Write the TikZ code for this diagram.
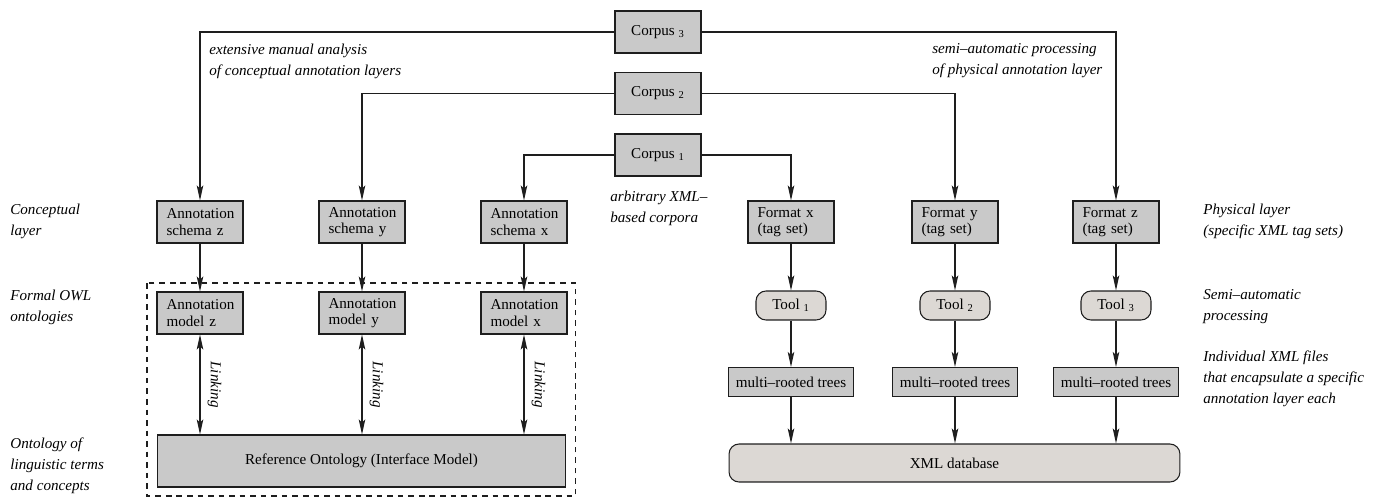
\documentclass[tikz,border=0pt]{standalone}
\usepackage{fontspec}
\setmainfont{Liberation Serif}
\usetikzlibrary{arrows.meta}
\definecolor{boxgray}{RGB}{201,201,201}
\definecolor{toolgray}{RGB}{220,216,212}
\definecolor{linegray}{RGB}{30,30,30}
\tikzset{
  every picture/.style={font=\fontsize{8.6}{9.4}\selectfont},
  box/.style={draw=linegray,fill=boxgray,line width=0.6pt,minimum width=1.72cm,minimum height=0.84cm,inner sep=0pt},
  txtbox/.style={box,text width=1.34cm,align=left},
  treebox/.style={box,minimum width=2.5cm,minimum height=0.58cm},
  toolbox/.style={box,fill=toolgray,rounded corners=0.2cm,minimum width=1.4cm,minimum height=0.58cm},
  note/.style={anchor=west,align=left,inner sep=0pt,font=\fontsize{8.6}{12}\selectfont\itshape},
  arr/.style={-{Stealth[length=3mm,width=1.3mm,inset=0.6mm]},draw=linegray,line width=0.6pt},
  dblarr/.style={arr,{Stealth[length=3mm,width=1.3mm,inset=0.6mm]}-{Stealth[length=3mm,width=1.3mm,inset=0.6mm]}}
}
\begin{document}
\begin{tikzpicture}[x=0.02cm,y=-0.02cm]
  \useasboundingbox (0,0) rectangle (1374,497);
  \foreach \n/\y in {3/32,2/93.5,1/155}
    \node[box] (c\n) at (658,\y) {Corpus \textsubscript{\n}};
  \node[box,minimum width=8.18cm,minimum height=1.04cm] (ref) at (361.5,461) {Reference Ontology (Interface Model)};
  \draw[linegray,dashed,dash pattern=on 3.2pt off 2.8pt,line width=0.6pt] (147,283) rectangle (575.5,496);
  \foreach \v/\x in {z/200,y/362,x/524} {
    \node[txtbox] (s\v) at (\x,222) {Annotation\\schema \v};
    \node[txtbox] (m\v) at (\x,313) {Annotation\\model \v};
    \draw[arr] (s\v) -- (m\v);
    \draw[dblarr] (m\v) -- (m\v.south |- ref.north)
      node[midway,anchor=south,rotate=-90,inner sep=4pt,font=\fontsize{8.6}{9.4}\selectfont\itshape] (l\v) {Linking};
  }
  \node[box,fill=toolgray,rounded corners=0.2cm,minimum width=9.02cm,minimum height=0.76cm] (xml) at (954.5,463) {XML database};
  \foreach \v/\n/\x in {x/1/791,y/2/955,z/3/1116} {
    \node[txtbox] (f\v) at (\x,222) {Format \v\\(tag set)};
    \node[toolbox] (t\n) at (\x,305.5) {Tool \textsubscript{\n}};
    \node[treebox] (r\n) at (\x,382) {multi--rooted trees};
    \draw[arr] (f\v) -- (t\n);
    \draw[arr] (t\n) -- (r\n);
    \draw[arr] (r\n) -- (r\n.south |- xml.north);
  }
  \foreach \n/\v in {3/z,2/y,1/x} {
    \draw[arr] (c\n.west) -| (s\v.north);
    \draw[arr] (c\n.east) -| (f\v.north);
  }
  \node[note] (n1) at (209,61) {extensive manual analysis\\of conceptual annotation layers};
  \node[note] (n2) at (932,61) {semi--automatic processing\\of physical annotation layer};
  \node[note] (n3) at (610,208) {arbitrary XML--\\based corpora};
  \node[note] (n4) at (10,221) {Conceptual\\layer};
  \node[note] (n5) at (10,307) {Formal OWL\\ontologies};
  \node[note] (n6) at (10,466) {Ontology of\\linguistic terms\\and concepts};
  \node[note] (n7) at (1203,221) {Physical layer\\(specific XML tag sets)};
  \node[note] (n8) at (1203,307) {Semi--automatic\\processing};
  \node[note] (n9) at (1203,379) {Individual XML files\\that encapsulate a specific\\annotation layer each};
\end{tikzpicture}
\end{document}
